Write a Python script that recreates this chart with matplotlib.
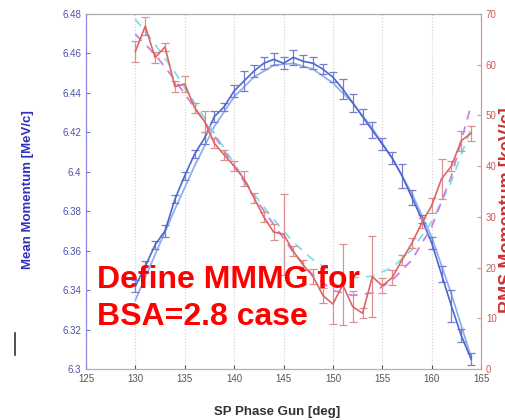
import matplotlib
matplotlib.use("Agg")
import matplotlib.pyplot as plt
from matplotlib.lines import Line2D
import numpy as np

plt.rcParams['font.family'] = ['Liberation Sans', 'DejaVu Sans']

# SP phase gun [deg]
phase = [130, 131, 132, 133, 134, 135, 136, 137, 138, 139, 140, 141,
         142, 143, 144, 145, 146, 147, 148, 149, 150, 151, 152, 153,
         154, 155, 156, 157, 158, 159, 160, 161, 162, 163, 164]

# mean momentum [MeV/c]
mean_mom = [6.342, 6.352, 6.363, 6.370, 6.386, 6.398, 6.409, 6.417, 6.428,
            6.433, 6.441, 6.446, 6.451, 6.455, 6.457, 6.455, 6.458, 6.456,
            6.455, 6.452, 6.448, 6.442, 6.435, 6.428, 6.421, 6.414, 6.407,
            6.398, 6.387, 6.376, 6.364, 6.348, 6.332, 6.317, 6.305]
mean_err = [0.003, 0.003, 0.002, 0.003, 0.002, 0.002, 0.002, 0.003, 0.003,
            0.002, 0.003, 0.005, 0.003, 0.003, 0.003, 0.003, 0.004, 0.003,
            0.003, 0.0025, 0.0025, 0.005, 0.0045, 0.004, 0.004, 0.003, 0.003,
            0.006, 0.004, 0.002, 0.003, 0.004, 0.008, 0.0035, 0.003]

# rms momentum [keV/c]
rms_mom = [62.6, 67.6, 61.4, 63.5, 55.7, 56.2, 51.5, 48.8, 44.5, 42.2, 40.0,
           37.5, 33.8, 30.0, 27.0, 26.6, 23.2, 20.5, 18.2, 14.5, 12.8, 16.6,
           12.3, 11.0, 18.2, 16.4, 18.0, 21.5, 24.8, 28.8, 32.2, 37.5, 40.0,
           45.0, 46.5]
rms_err = [2.0, 1.8, 1.1, 0.8, 1.0, 1.5, 1.0, 2.0, 1.0, 1.0, 1.0, 1.5, 1.0,
           1.0, 1.5, 8.0, 1.0, 1.0, 1.5, 1.5, 4.0, 8.0, 3.0, 1.0, 8.0, 1.5,
           1.5, 1.0, 1.0, 1.0, 1.5, 4.0, 1.0, 2.0, 1.5]

# fitted curves
fit_phase = [130, 132, 134, 136, 138, 140, 142, 144, 146, 148, 150, 152,
             154, 156, 158, 160, 162, 164]
mean_fit = [6.335, 6.358, 6.381, 6.403, 6.423, 6.438, 6.448, 6.454, 6.455,
            6.452, 6.445, 6.435, 6.422, 6.407, 6.389, 6.367, 6.338, 6.306]
rms_fit_c = [69.0, 64.0, 58.5, 52.5, 46.5, 40.5, 34.5, 29.5, 25.0, 21.5,
             19.0, 18.0, 18.3, 20.0, 23.5, 29.0, 37.0, 47.5]
rms_fit_m = [66.0, 62.0, 57.0, 51.5, 46.0, 40.0, 34.0, 28.5, 23.0, 18.5,
             15.5, 14.5, 15.0, 17.5, 21.5, 28.0, 38.0, 52.0]

xticks = [125, 130, 135, 140, 145, 150, 155, 160, 165]
yticks_left = [6.3, 6.32, 6.34, 6.36, 6.38, 6.4, 6.42, 6.44, 6.46, 6.48]
ylabels_left = ['6.3', '6.32', '6.34', '6.36', '6.38', '6.4', '6.42', '6.44', '6.46', '6.48']
yticks_right = [0, 10, 20, 30, 40, 50, 60, 70]

blue = '#4a68d0'
blue_err = '#7a7ad0'
red = '#e06464'
red_err = '#d89090'

fig = plt.figure(figsize=(5.06, 4.2), dpi=100)
ax = fig.add_axes([86/506, 1-369/420, (481-86)/506, (369-14)/420])
ax2 = ax.twinx()

ax.plot(fit_phase, mean_fit, color='#8fb0ee', lw=1.3, zorder=2)
ax.errorbar(phase, mean_mom, yerr=mean_err, color=blue, ecolor=blue_err,
            elinewidth=0.9, capsize=3, capthick=0.9, lw=1.2, zorder=3)

ax2.plot(fit_phase, rms_fit_c, color='#7ee0e6', lw=1.3, ls=(0, (5, 4)))
ax2.plot(fit_phase, rms_fit_m, color='#cc80dc', lw=1.3, ls=(0, (5, 4)))
ax2.errorbar(phase, rms_mom, yerr=rms_err, color=red, ecolor=red_err,
             elinewidth=0.9, capsize=3, capthick=0.9, lw=1.2)

ax.set_xlim(125, 165)
ax.set_ylim(6.3, 6.48)
ax2.set_ylim(0, 70)
ax.set_xticks(xticks)
ax.set_yticks(yticks_left)
ax.set_yticklabels(ylabels_left)
ax2.set_yticks(yticks_right)

ax.xaxis.grid(True, ls=':', color='#d0d0d0', lw=0.8)

ax.tick_params(axis='x', direction='in', labelsize=7, colors='#555555', length=3)
ax.tick_params(axis='y', direction='in', labelsize=7, colors='#7070c0',
               labelcolor='#5050b0', length=3)
ax2.tick_params(axis='y', direction='in', labelsize=7, colors='#e09090',
                labelcolor='#d05a5a', length=3)

for a in (ax, ax2):
    a.spines['top'].set_color('#aaaaaa')
    a.spines['bottom'].set_color('#b0b0c0')
    a.spines['left'].set_color('#8888dd')
    a.spines['right'].set_color('#e09090')

fig.text(28/506, 1-190/420, 'Mean Momentum [MeV/c]', rotation=90,
         ha='center', va='center', fontsize=9.5, fontweight='bold', color='#3030c0')
# the right label sits partly outside the figure, as in the original slide
fig.text(507/506, 1-210/420, 'RMS Momentum [keV/c]', rotation=90,
         ha='center', va='center', fontsize=13, fontweight='bold', color='#d03030')
fig.text(277/506, 1-412/420, 'SP Phase Gun [deg]', ha='center', va='center',
         fontsize=9.5, fontweight='bold', color='#333333')

fig.text(97/506, 1-288/420, 'Define MMMG for', ha='left', va='baseline',
         fontsize=23, fontweight='bold', color='#ff0000')
fig.text(97/506, 1-325/420, 'BSA=2.8 case', ha='left', va='baseline',
         fontsize=23, fontweight='bold', color='#ff0000')

fig.add_artist(Line2D([15/506, 15/506], [1-333/420, 1-355/420],
                      color='#333333', lw=1.2))

fig.savefig('out.png', dpi=100)
